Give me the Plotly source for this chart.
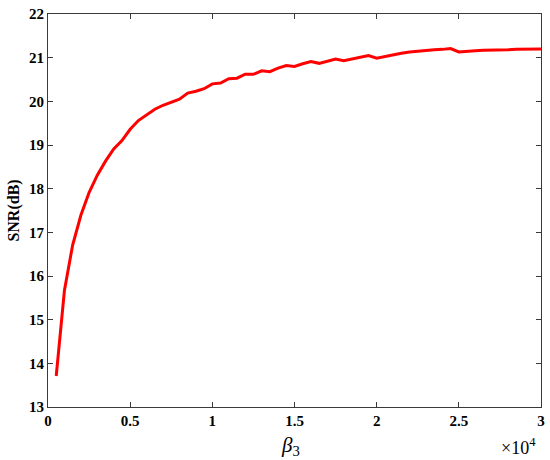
import plotly.graph_objects as go

beta3 = [500 * i for i in range(1, 61)]
snr = [13.71, 15.67, 16.71, 17.39, 17.91, 18.31, 18.63, 18.91, 19.10, 19.36,
       19.56, 19.70, 19.82, 19.91, 19.98, 20.05, 20.19, 20.23, 20.29, 20.40,
       20.42, 20.52, 20.53, 20.62, 20.62, 20.70, 20.68, 20.76, 20.82, 20.80,
       20.86, 20.91, 20.87, 20.92, 20.97, 20.93, 20.97, 21.01, 21.05, 20.99,
       21.03, 21.07, 21.10, 21.13, 21.15, 21.17, 21.18, 21.19, 21.21, 21.13,
       21.15, 21.16, 21.17, 21.17, 21.18, 21.18, 21.19, 21.19, 21.20, 21.20]

x_tickvals = [0, 5000, 10000, 15000, 20000, 25000, 30000]
x_ticktext = ["0", "0.5", "1", "1.5", "2", "2.5", "3"]
y_tickvals = [13, 14, 15, 16, 17, 18, 19, 20, 21, 22]

font_family = "Liberation Serif, Times New Roman, serif"
tick_font = dict(family=font_family, size=15, color="black")

fig = go.Figure()
fig.add_trace(go.Scatter(x=beta3, y=snr, mode="lines",
                         line=dict(color="#ff0000", width=3)))

axis_common = dict(showgrid=False, zeroline=False, showline=True, linecolor="#3a3a3a",
                   linewidth=1, mirror="ticks", ticks="inside", ticklen=5,
                   tickcolor="#3a3a3a", tickfont=tick_font)

fig.update_xaxes(range=[0, 30000], tickvals=x_tickvals,
                 ticktext=["<b>%s</b>" % t for t in x_ticktext], **axis_common)
fig.update_yaxes(range=[13, 22], tickvals=y_tickvals,
                 ticktext=["<b>%d</b>" % v for v in y_tickvals],
                 title=dict(text="<b>SNR(dB)</b>", font=dict(family=font_family, size=16, color="black"),
                            standoff=5),
                 **axis_common)

fig.add_annotation(x=0.491, y=-0.062, xref="paper", yref="paper", showarrow=False,
                   text="<i>β</i><sub>3</sub>", yanchor="top",
                   font=dict(family=font_family, size=21, color="black"))
fig.add_annotation(x=0.993, y=-0.066, xref="paper", yref="paper", showarrow=False,
                   text="×10<sup>4</sup>", xanchor="right", yanchor="top",
                   font=dict(family=font_family, size=18, color="black"))

fig.update_layout(width=550, height=460, plot_bgcolor="white", paper_bgcolor="white",
                  margin=dict(l=48, r=9, t=14, b=53, autoexpand=False), showlegend=False)

fig.write_html("out.html", config={"displayModeBar": False},
               post_script="document.body.style.margin='0';")
